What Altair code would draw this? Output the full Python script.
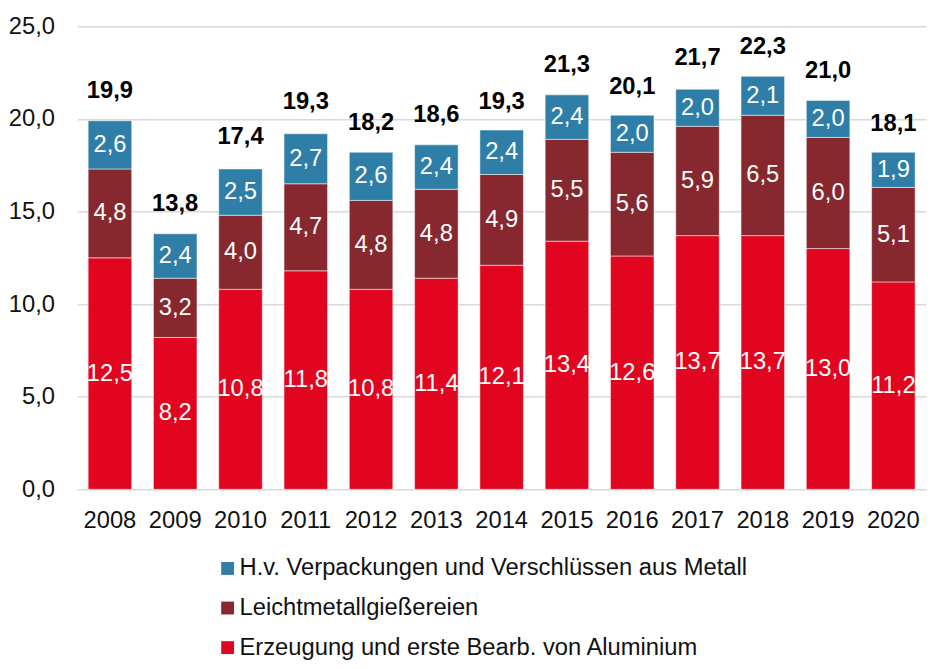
import altair as alt
import pandas as pd

years = ["2008", "2009", "2010", "2011", "2012", "2013", "2014", "2015", "2016", "2017", "2018", "2019", "2020"]
series = [
    "H.v. Verpackungen und Verschlüssen aus Metall",
    "Leichtmetallgießereien",
    "Erzeugung und erste Bearb. von Aluminium",
]
colors = ["#2F7EA8", "#87282F", "#E2051F"]

erzeugung = [12.5, 8.2, 10.8, 11.8, 10.8, 11.4, 12.1, 13.4, 12.6, 13.7, 13.7, 13.0, 11.2]
giessereien = [4.8, 3.2, 4.0, 4.7, 4.8, 4.8, 4.9, 5.5, 5.6, 5.9, 6.5, 6.0, 5.1]
verpackungen = [2.6, 2.4, 2.5, 2.7, 2.6, 2.4, 2.4, 2.4, 2.0, 2.0, 2.1, 2.0, 1.9]
totals = [19.9, 13.8, 17.4, 19.3, 18.2, 18.6, 19.3, 21.3, 20.1, 21.7, 22.3, 21.0, 18.1]

FONT = "Liberation Sans"
FS = 24

rows = []
for vals, name, order in [(erzeugung, series[2], 0), (giessereien, series[1], 1), (verpackungen, series[0], 2)]:
    for y, v in zip(years, vals):
        rows.append({"year": y, "series": name, "value": v, "order": order,
                     "label": f"{v:.1f}".replace(".", ",")})
df = pd.DataFrame(rows)

tot = pd.DataFrame({"year": years, "total": totals,
                    "label": [f"{t:.1f}".replace(".", ",") for t in totals]})

x_enc = alt.X("year:N", title=None, sort=years,
              scale=alt.Scale(paddingInner=0.333, paddingOuter=0.167),
              axis=alt.Axis(labelFontSize=FS, labelFont=FONT, labelColor="#111111",
                            labelAngle=0, ticks=False, domain=False, labelPadding=20))
y_scale = alt.Scale(domain=[0, 25])

base = alt.Chart(df).transform_stack(
    stack="value", groupby=["year"], as_=["y0", "y1"],
    sort=[alt.SortField("order", order="ascending")]
).transform_calculate(mid="(datum.y0 + datum.y1) / 2")

bars = base.mark_bar(stroke="white", strokeWidth=1, strokeOpacity=0.5).encode(
    x=x_enc,
    y=alt.Y("y0:Q", scale=y_scale, title=None,
            axis=alt.Axis(values=[0, 5, 10, 15, 20, 25], labelFontSize=FS, labelFont=FONT,
                          labelColor="#111111", ticks=False, domain=False,
                          gridColor="#D9D9D9", gridWidth=1.5, labelPadding=23,
                          labelExpr="replace(format(datum.value, '.1f'), '.', ',')")),
    y2="y1:Q",
    color=alt.Color("series:N", scale=alt.Scale(domain=series, range=colors),
                    legend=alt.Legend(title=None, orient="none", legendX=140, legendY=536,
                                      direction="vertical", labelFontSize=FS, labelFont=FONT,
                                      labelColor="#111111", symbolType="square",
                                      symbolSize=169, symbolStrokeWidth=0, rowPadding=16,
                                      labelOffset=0, labelLimit=800)),
)

seg_labels = base.mark_text(color="white", fontSize=FS, font=FONT, baseline="middle").encode(
    x=alt.X("year:N", sort=years),
    y=alt.Y("mid:Q", scale=y_scale),
    text="label:N",
)

total_labels = alt.Chart(tot).mark_text(color="black", fontSize=FS, font=FONT,
                                        fontWeight="bold", baseline="bottom", dy=-18).encode(
    x=alt.X("year:N", sort=years),
    y=alt.Y("total:Q", scale=y_scale),
    text="label:N",
)

chart = alt.layer(bars, seg_labels, total_labels).properties(
    width=858, height=468,
    autosize=alt.AutoSizeParams(type="none"),
    padding={"left": 70, "top": 15, "right": 5, "bottom": 170},
).configure_view(stroke=None)

chart.save("out.html", embed_options={"renderer": "svg", "actions": False})
